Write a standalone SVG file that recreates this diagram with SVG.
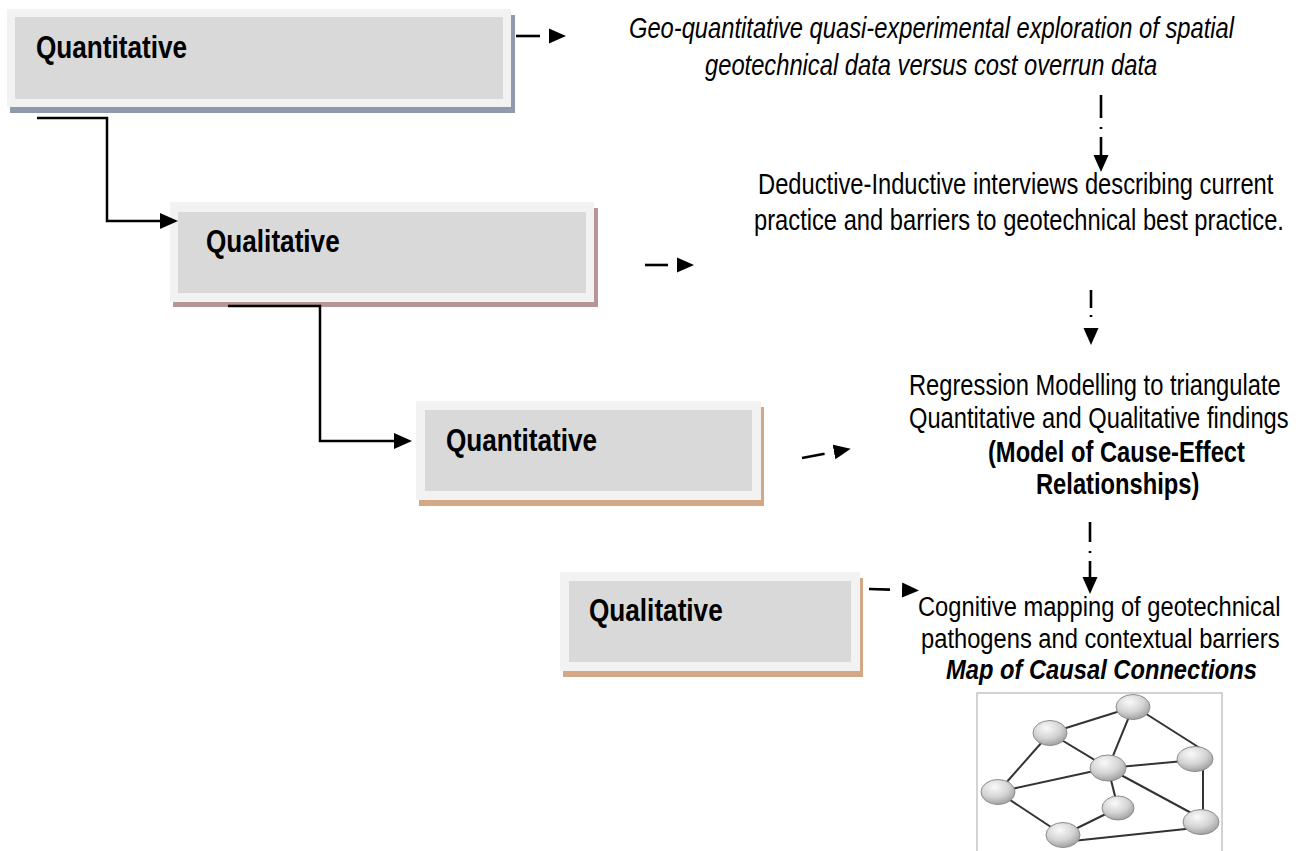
<svg xmlns="http://www.w3.org/2000/svg" width="1300" height="851" viewBox="0 0 1300 851">
<style>
.outer{fill:#f2f2f2}
.inner{fill:#d9d9d9}
.lbl{font-family:'Liberation Sans',Arial,sans-serif;font-weight:bold;font-size:32px;fill:#000}
.txt{font-family:'Liberation Sans',Arial,sans-serif;font-size:29px;fill:#000}
.sm{font-size:28px}
.b{font-weight:bold}
.i{font-style:italic}
.elbow{fill:none;stroke:#000;stroke-width:2.5}
.dash{fill:none;stroke:#000;stroke-width:2.6}
.edge{stroke:#333;stroke-width:2}
.node{fill:url(#ng);stroke:#8c8c8c;stroke-width:1}
</style>
<defs>
<marker id="ah" markerUnits="userSpaceOnUse" markerWidth="20" markerHeight="18" refX="0" refY="8" orient="auto" viewBox="0 0 20 18">
<path d="M0,0 L18,8 L0,16 Z" fill="#000"/>
</marker>
<marker id="ahs" markerUnits="userSpaceOnUse" markerWidth="20" markerHeight="18" refX="0" refY="8" orient="auto" viewBox="0 0 20 18">
<path d="M0,0.5 L17,8 L0,15.5 Z" fill="#000"/>
</marker>
<radialGradient id="ng" cx="0.4" cy="0.3" r="0.75">
<stop offset="0" stop-color="#fafafa"/>
<stop offset="0.55" stop-color="#d4d4d4"/>
<stop offset="1" stop-color="#9a9a9a"/>
</radialGradient>
</defs>

<g id="box-quantitative-1">
<rect x="10" y="15" width="505" height="98" fill="#8e9bab"/>
<rect class="outer" x="7" y="9" width="504" height="98"/>
<rect class="inner" x="15" y="17" width="488" height="82"/>
<g transform="scale(0.818,1)"><text class="lbl" x="44" y="58">Quantitative</text></g>
</g>

<g id="box-qualitative-2">
<rect x="173" y="208" width="425" height="99" fill="#b59595"/>
<rect class="outer" x="170" y="202" width="424" height="100"/>
<rect class="inner" x="178" y="212" width="408" height="81"/>
<g transform="scale(0.818,1)"><text class="lbl" x="251.8" y="252">Qualitative</text></g>
</g>

<g id="box-quantitative-3">
<rect x="419" y="407" width="345" height="99" fill="#d3a886"/>
<rect class="outer" x="416" y="401" width="345" height="99"/>
<rect class="inner" x="425" y="410" width="327" height="81"/>
<g transform="scale(0.818,1)"><text class="lbl" x="545.2" y="451">Quantitative</text></g>
</g>

<g id="box-qualitative-4">
<rect x="563" y="578" width="300" height="99" fill="#d3a886"/>
<rect class="outer" x="560" y="572" width="300" height="99"/>
<rect class="inner" x="569" y="581" width="282" height="81"/>
<g transform="scale(0.818,1)"><text class="lbl" x="720" y="621">Qualitative</text></g>
</g>

<g id="text-geo-quantitative" transform="scale(0.818,1)">
<text class="txt i" x="768.9" y="38">Geo-quantitative quasi-experimental exploration of spatial</text>
<text class="txt i" x="861.9" y="75">geotechnical data versus cost overrun data</text>
</g>

<g id="text-interviews" transform="scale(0.818,1)">
<text class="txt" x="926.7" y="194">Deductive-Inductive interviews describing current</text>
<text class="txt" x="921.8" y="230">practice and barriers to geotechnical best practice.</text>
</g>

<g id="text-regression" transform="scale(0.818,1)">
<text class="txt" x="1111.2" y="395">Regression Modelling to triangulate</text>
<text class="txt" x="1111.2" y="428">Quantitative and Qualitative findings</text>
<text class="txt b" x="1207.8" y="462">(Model of Cause-Effect</text>
<text class="txt b" x="1266.5" y="494">Relationships)</text>
</g>

<g id="text-cognitive" transform="scale(0.847,1)">
<text class="txt sm" x="1083.8" y="616">Cognitive mapping of geotechnical</text>
<text class="txt sm" x="1087.4" y="648">pathogens and contextual barriers</text>
<text class="txt sm b i" x="1116.9" y="679.5">Map of Causal Connections</text>
</g>

<g id="connectors">
<path class="elbow" d="M37,118 H107 V221 H160" marker-end="url(#ah)"/>
<path class="elbow" d="M228,306 H320 V441 H394" marker-end="url(#ah)"/>
<path class="dash" d="M516,36 H549" stroke-dasharray="24 40" marker-end="url(#ahs)"/>
<path class="dash" d="M645,265 H677" stroke-dasharray="23 40" marker-end="url(#ahs)"/>
<path class="dash" d="M802,458 L834,452" stroke-dasharray="23 40" marker-end="url(#ahs)"/>
<path class="dash" d="M869,589 L902,590" stroke-dasharray="21 40" marker-end="url(#ahs)"/>
<path class="dash" d="M1101,95 V155" stroke-dasharray="23 9 2 8 30" marker-end="url(#ahs)"/>
<path class="dash" d="M1091,290 V328" stroke-dasharray="18 7 2 40" marker-end="url(#ahs)"/>
<path class="dash" d="M1090,522 V577" stroke-dasharray="20 9 2 8 30" marker-end="url(#ahs)"/>
</g>

<g id="causal-map">
<rect x="977" y="693" width="245" height="170" fill="#fff" stroke="#c4c4c4" stroke-width="1.5"/>
<line class="edge" x1="1050" y1="733" x2="1133" y2="707"/>
<line class="edge" x1="1133" y1="707" x2="1108" y2="768"/>
<line class="edge" x1="1140" y1="710" x2="1203" y2="750"/>
<line class="edge" x1="1050" y1="733" x2="1108" y2="768"/>
<line class="edge" x1="1050" y1="733" x2="998" y2="792"/>
<line class="edge" x1="1108" y1="768" x2="1195" y2="760"/>
<line class="edge" x1="1108" y1="768" x2="998" y2="792"/>
<line class="edge" x1="1108" y1="768" x2="1118" y2="808"/>
<line class="edge" x1="1108" y1="768" x2="1195" y2="815"/>
<line class="edge" x1="1203" y1="765" x2="1203" y2="815"/>
<line class="edge" x1="998" y1="792" x2="1063" y2="835"/>
<line class="edge" x1="1063" y1="835" x2="1118" y2="808"/>
<line class="edge" x1="1063" y1="842" x2="1195" y2="828"/>
<ellipse class="node" cx="1050" cy="733" rx="17" ry="12.5"/>
<ellipse class="node" cx="1133" cy="707" rx="17" ry="12.5"/>
<ellipse class="node" cx="1195" cy="759" rx="18" ry="12.5"/>
<ellipse class="node" cx="1108" cy="768" rx="18" ry="13"/>
<ellipse class="node" cx="998" cy="792" rx="17" ry="12.5"/>
<ellipse class="node" cx="1118" cy="808" rx="16" ry="12"/>
<ellipse class="node" cx="1201" cy="822" rx="18" ry="12.5"/>
<ellipse class="node" cx="1063" cy="835" rx="17" ry="12.5"/>
</g>
</svg>
